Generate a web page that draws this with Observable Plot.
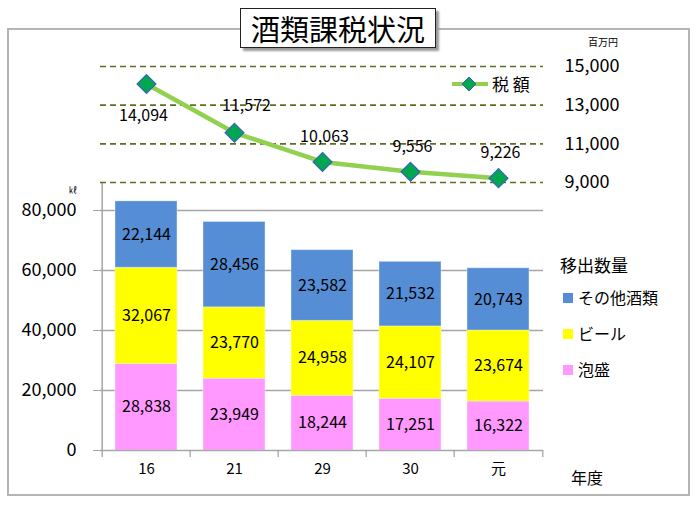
<!DOCTYPE html>
<html><head><meta charset="utf-8">
<script src="https://cdn.jsdelivr.net/npm/d3@7"></script>
<script src="https://cdn.jsdelivr.net/npm/@observablehq/plot@0.6"></script>
<style>
body{margin:0;background:#fff;font-family:"Noto Sans CJK JP","Noto Sans",sans-serif;}
#wrap{position:relative;width:700px;height:509px;overflow:hidden;background:#fff;}
.abs{position:absolute;white-space:nowrap;color:#000;line-height:1;}
#frame{position:absolute;left:7px;top:28px;width:679px;height:464px;border:2px solid #b4b4b4;}
#title{position:absolute;left:240px;top:8px;width:194px;height:38px;border:1.5px solid #222;background:#fff;box-shadow:3px 3px 2px #9a9a9a;font-size:29px;line-height:38px;text-align:center;}
.sw{display:inline-block;width:10px;height:10px;margin-right:5px;vertical-align:1px;}
</style></head><body><div id="wrap">
<div id="frame"></div>
<div id="title">酒類課税状況</div>
</div>
<script>
const years = ["16","21","29","30","元"];
const awamori = [28838,23949,18244,17251,16322];
const beer = [32067,23770,24958,24107,23674];
const other = [22144,28456,23582,21532,20743];
const tax = [14094,11572,10063,9556,9226];
const seriesNames = ["泡盛","ビール","その他酒類"];
const seriesColors = ["#ff99ff","#ffff00","#558ed5"];
const leftTicks = [0,20000,40000,60000,80000];
const rightTicks = [9000,11000,13000,15000];

const fmt = d3.format(",");
const rows = [];
years.forEach((y,i)=>{
  [awamori,beer,other].forEach((arr,k)=>rows.push({year:y, series:seriesNames[k], value:arr[i]}));
});
const taxRows = years.map((y,i)=>({year:y, value:tax[i], i}));

const W=700,H=509,ML=100,MR=157;
const step=(W-ML-MR)/years.length;
const xOpts={domain:years,paddingInner:0.3,paddingOuter:0.15};
const wrap=document.getElementById("wrap");
function place(svg){svg.style.position="absolute";svg.style.left="0px";svg.style.top="0px";svg.style.maxWidth="none";wrap.appendChild(svg);}

const bars = Plot.plot({
  width:W,height:H,marginLeft:ML,marginRight:MR,marginTop:180,marginBottom:59,
  style:{background:"transparent",fontFamily:"'Noto Sans CJK JP',sans-serif",color:"#000"},
  x:{...xOpts,label:null},
  y:{domain:[0,90000],label:null},
  color:{domain:seriesNames,range:seriesColors},
  marks:[
    Plot.ruleY(leftTicks.slice(1),{stroke:"#a6a6a6",strokeWidth:1.3}),
    Plot.barY(rows,{x:"year",y:"value",fill:"series",stroke:"#ffffff",strokeOpacity:0.35,strokeWidth:1}),
    Plot.text(rows,Plot.stackY({x:"year",y:"value",z:"series",text:d=>fmt(d.value),fontSize:16,fill:"#000"})),
    Plot.ruleY([0],{stroke:"#a6a6a6",strokeWidth:1.5}),
    Plot.ruleX([years[0]],{x:d=>d,dx:-step/2,y1:0,y2:89000,stroke:"#a6a6a6",strokeWidth:1.5}),
    Plot.ruleX(years,{x:d=>d,dx:-step/2,y1:0,y2:-2300,stroke:"#a6a6a6",strokeWidth:1.3}),
    Plot.ruleX([years[years.length-1]],{x:d=>d,dx:step/2,y1:0,y2:-2300,stroke:"#a6a6a6",strokeWidth:1.3}),
    Plot.axisY(leftTicks,{tickSize:7,tickPadding:17,tickFormat:fmt,fontSize:18,stroke:"#a6a6a6"}),
    Plot.axisX({tickSize:0,tickPadding:13,fontSize:15})
  ]
});
place(bars);

const line = Plot.plot({
  width:W,height:H,marginLeft:ML,marginRight:MR,marginTop:66,marginBottom:327,
  style:{background:"transparent",fontFamily:"'Noto Sans CJK JP',sans-serif",color:"#000"},
  x:{...xOpts,axis:null},
  y:{domain:[9000,15000],label:null},
  marks:[
    Plot.ruleY(rightTicks,{stroke:"#5f6e22",strokeDasharray:"6,4",strokeWidth:1.6}),
    Plot.line(taxRows,{x:"year",y:"value",stroke:"#92d050",strokeWidth:4.5}),
    Plot.dot(taxRows,{x:"year",y:"value",symbol:"diamond2",r:8.5,fill:"#00a650",stroke:"#3b64b8",strokeWidth:1.2}),
    Plot.text(taxRows.filter(d=>d.i===0),{x:"year",y:"value",text:d=>fmt(d.value),dy:32,dx:-3,fontSize:16}),
    Plot.text(taxRows.filter(d=>d.i===1),{x:"year",y:"value",text:d=>fmt(d.value),dy:-27,dx:12,fontSize:16}),
    Plot.text(taxRows.filter(d=>d.i>1),{x:"year",y:"value",text:d=>fmt(d.value),dy:-25,dx:2,fontSize:16}),
    Plot.axisY(rightTicks,{anchor:"right",tickSize:0,tickPadding:21,tickFormat:fmt,fontSize:18})
  ]
});
place(line);

function addHTML(html){const t=document.createElement("div");t.innerHTML=html;while(t.firstChild)wrap.appendChild(t.firstChild);}
addHTML(`<div class="abs" style="left:588px;top:37px;font-size:10px;">百万円</div>
<div class="abs" style="left:69px;top:186px;font-size:8px;">㎘</div>
<svg class="abs" style="left:450px;top:73px;" width="40" height="22"><line x1="2" y1="11" x2="38" y2="11" stroke="#92d050" stroke-width="4"/><path d="M19,4L26,11L19,18L12,11Z" fill="#00a650" stroke="#3b64b8" stroke-width="1"/></svg>
<div class="abs" style="left:492px;top:75px;font-size:17px;">税 額</div>
<div class="abs" style="left:560px;top:256px;font-size:17px;">移出数量</div>
<div class="abs" style="left:563px;top:289px;font-size:16px;"><span class="sw" style="background:${seriesColors[2]}"></span>${seriesNames[2]}</div>
<div class="abs" style="left:563px;top:325px;font-size:16px;"><span class="sw" style="background:${seriesColors[1]}"></span>${seriesNames[1]}</div>
<div class="abs" style="left:563px;top:361px;font-size:16px;"><span class="sw" style="background:${seriesColors[0]}"></span>${seriesNames[0]}</div>
<div class="abs" style="left:571px;top:469px;font-size:16px;">年度</div>`);
wrap.appendChild(document.getElementById("title"));
</script>
</body></html>
